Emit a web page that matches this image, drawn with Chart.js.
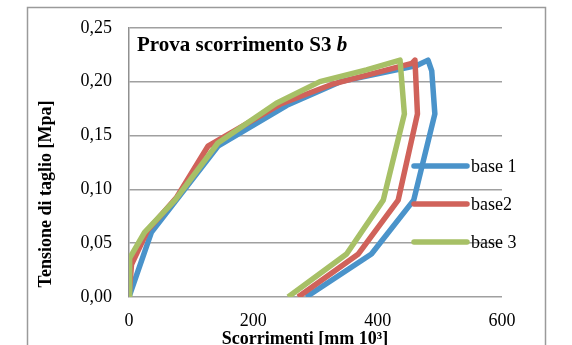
<!DOCTYPE html>
<html>
<head>
<meta charset="utf-8">
<script src="https://cdn.jsdelivr.net/npm/chart.js@4"></script>
<style>
  html, body { margin: 0; padding: 0; background: #fff; }
  #wrap { width: 572px; height: 345px; position: relative; }
</style>
</head>
<body>
<div id="wrap"><canvas id="chart"></canvas></div>
<script>
// values
const seriesNames = ['base 1', 'base2', 'base 3'];
const base1X = [0, 36, 143, 254, 340, 463, 481, 487, 492, 458, 390, 285];
const base1Y = [0, 0.06, 0.14, 0.178, 0.2, 0.215, 0.22, 0.21, 0.17, 0.09, 0.04, 0];
const base2X = [0, 4, 30, 76, 127, 243, 329, 455, 460, 464, 433, 369, 272];
const base2Y = [0, 0.03, 0.062, 0.092, 0.14, 0.179, 0.198, 0.217, 0.22, 0.17, 0.09, 0.04, 0];
const base3X = [0, 1, 25, 74, 143, 237, 307, 382, 436, 443, 409, 350, 256];
const base3Y = [0, 0.036, 0.06, 0.09, 0.143, 0.18, 0.2, 0.211, 0.22, 0.17, 0.09, 0.04, 0];
const xTicks = [0, 200, 400, 600];
const yTicks = [0, 0.05, 0.10, 0.15, 0.20, 0.25];
const xTitle = 'Scorrimenti [mm 10³]';
const yTitle = 'Tensione di taglio [Mpa]';

const colors = ['#4A93CA', '#D0625A', '#A7C066'];
const serif = '"Liberation Serif", "Times New Roman", serif';

function toPoints(xs, ys) {
  return xs.map((x, i) => ({ x: x, y: ys[i] }));
}

// title, axis titles, outer frame and the legend drawn over the plot, as in the original
const decorations = {
  id: 'decorations',
  afterDraw(chart) {
    const ctx = chart.ctx;
    ctx.save();
    ctx.strokeStyle = '#9a9a9a';
    ctx.lineWidth = 1.5;
    ctx.strokeRect(27.5, 7.5, 518, 360);

    ctx.fillStyle = '#000';
    ctx.textBaseline = 'alphabetic';
    ctx.font = 'bold 21px ' + serif;
    const t = 'Prova scorrimento S3 ';
    ctx.fillText(t, 137, 51);
    const w = ctx.measureText(t).width;
    ctx.font = 'italic bold 21px ' + serif;
    ctx.fillText('b', 137 + w, 51);

    // axis titles
    ctx.font = 'bold 18px ' + serif;
    ctx.textAlign = 'center';
    ctx.textBaseline = 'middle';
    ctx.fillText(xTitle, 305, 339);
    ctx.save();
    ctx.translate(46, 194);
    ctx.rotate(-Math.PI / 2);
    ctx.fillText(yTitle, 0, 0);
    ctx.restore();

    ctx.textAlign = 'left';
    const ys = [166, 204, 242];
    seriesNames.forEach((name, i) => {
      ctx.strokeStyle = colors[i];
      ctx.lineWidth = 5.5;
      ctx.lineCap = 'round';
      ctx.beginPath();
      ctx.moveTo(414, ys[i]);
      ctx.lineTo(467, ys[i]);
      ctx.stroke();
      ctx.fillStyle = '#000';
      ctx.font = '18px ' + serif;
      ctx.fillText(name, 471, ys[i] + 1);
    });
    ctx.restore();
  }
};

const ctx = document.getElementById('chart').getContext('2d');
new Chart(ctx, {
  type: 'scatter',
  data: {
    datasets: [
      { label: seriesNames[0], data: toPoints(base1X, base1Y), borderColor: colors[0], order: 2 },
      { label: seriesNames[1], data: toPoints(base2X, base2Y), borderColor: colors[1], order: 1 },
      { label: seriesNames[2], data: toPoints(base3X, base3Y), borderColor: colors[2], order: 0 }
    ].map(d => Object.assign(d, {
      showLine: true,
      borderWidth: 5.5,
      tension: 0,
      pointRadius: 0,
      borderJoinStyle: 'round',
      fill: false
    }))
  },
  options: {
    responsive: true,
    maintainAspectRatio: false,
    animation: false,
    layout: { padding: { left: 30, right: 70, top: 24, bottom: 0 } },
    plugins: {
      legend: { display: false },
      tooltip: { enabled: false }
    },
    scales: {
      x: {
        type: 'linear',
        min: 0,
        max: 600,
        afterBuildTicks: s => { s.ticks = xTicks.map(v => ({ value: v })); },
        afterFit: s => { s.height = 48; },
        grid: { display: false, drawTicks: false },
        border: { display: false },
        ticks: {
          padding: 13,
          color: '#000',
          font: { family: serif, size: 18 }
        }
      },
      y: {
        type: 'linear',
        min: 0,
        max: 0.25,
        afterBuildTicks: s => { s.ticks = yTicks.map(v => ({ value: v })); },
        afterFit: s => { s.width = 99; },
        grid: { color: '#a0a0a0', lineWidth: 1.5, drawTicks: false },
        border: { display: true, color: '#909090', width: 1.5 },
        ticks: {
          padding: 17,
          color: '#000',
          font: { family: serif, size: 18 },
          callback: v => v.toFixed(2).replace('.', ',')
        }
      }
    }
  },
  plugins: [decorations]
});
</script>
</body>
</html>
